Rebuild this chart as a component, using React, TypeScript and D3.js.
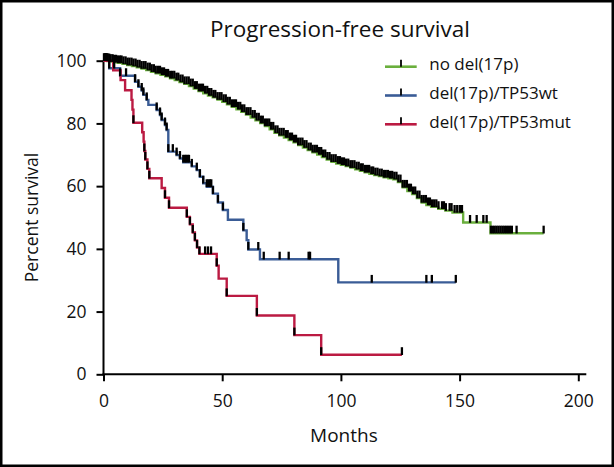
import React, { useRef, useEffect } from 'react';
import * as d3 from 'd3';

// Kaplan-Meier steps: [months, percent surviving]
const noDelEvents: [number, number][] = [
  [0, 100], [1.5, 99.9], [3, 99.7], [4.5, 99.5], [6, 99.3], [8, 99], [10, 98.6], [12, 98.3],
  [14, 97.9], [16, 97.5], [18, 97], [20, 96.5], [22, 96], [24, 95.5], [26, 95], [28, 94.4],
  [30, 93.8], [32, 93.2], [34, 92.6], [36, 91.9], [38, 91.1], [40, 90.3], [42, 89.6], [44, 88.9],
  [46, 88.3], [48, 87.6], [50, 86.9], [52, 86.1], [54, 85.3], [56, 84.5], [58, 83.7], [60, 82.8],
  [62, 81.9], [64, 81], [66, 80.1], [68, 79.2], [70, 78.1], [72, 77], [74, 76.2], [76, 75.5],
  [78, 74.7], [80, 74], [82, 73.1], [84, 72.3], [86, 71.5], [88, 70.8], [90, 70.1], [92, 69.3],
  [94, 68.5], [96, 67.8], [98, 67.2], [100, 66.8], [102, 66.4], [104, 65.9], [106, 65.4],
  [108, 64.9], [110, 64.4], [112, 63.9], [114, 63.5], [116, 63.2], [118, 62.8], [120, 62.5],
  [122, 62.2], [124, 61.3], [126, 59.6], [128, 58.4], [130, 57.5], [132, 56.2], [134, 54.8],
  [136, 54], [138, 53.4], [141, 52.8], [144, 52.2], [147, 51.6], [151.5, 48.4], [163, 45],
];
const noDelEnd = 185.4;
const noDelCensored = [
  0.2, 0.6, 1.1, 1.7, 2.4, 3.0, 3.8, 4.5, 5.3, 6.1, 6.9, 7.6, 8.4, 9.3, 10.1, 10.9, 11.8, 12.6,
  13.5, 14.3, 15.2, 16.0, 16.9, 17.7, 18.6, 19.5, 20.3, 21.2, 22.0, 22.9, 23.8, 24.6, 25.5, 26.3,
  27.2, 28.1, 28.9, 29.8, 30.7, 31.5, 32.4, 33.3, 34.1, 35.0, 35.9, 36.7, 37.6, 38.5, 39.3, 40.2,
  41.1, 41.9, 42.8, 43.7, 44.5, 45.4, 46.3, 47.1, 48.0, 48.9, 49.7, 50.6, 51.5, 52.3, 53.2, 54.1,
  55.0, 55.8, 56.7, 57.6, 58.4, 59.3, 60.2, 61.0, 61.9, 62.8, 63.7, 64.5, 65.4, 66.3, 67.1, 68.0,
  68.9, 69.8, 70.6, 71.5, 72.4, 73.3, 74.1, 75.0, 75.9, 76.8, 77.6, 78.5, 79.4, 80.3, 81.1, 82.0,
  82.9, 83.8, 84.6, 85.5, 86.4, 87.3, 88.1, 89.0, 89.9, 90.8, 91.7, 92.5, 93.4, 94.3, 95.2, 96.0,
  96.9, 97.8, 98.7, 99.6, 100.4, 101.3, 102.2, 103.1, 104.0, 104.8, 105.7, 106.6, 107.5, 108.4,
  109.2, 110.1, 111.0, 111.9, 112.8, 113.6, 114.5, 115.4, 116.3, 117.2, 118.1, 118.9, 119.8,
  120.7, 121.6, 122.5, 123.4, 124.2, 125.1, 126.0, 126.9, 127.8, 128.7, 129.5, 130.4, 131.3,
  132.2, 133.1, 134.0, 134.9, 135.8, 136.7, 137.5, 138.4, 139.3, 140.2, 141.1, 142.6, 143.4,
  144.2, 145.8, 146.6, 147.9, 149.0, 150.1, 151.0, 154.4, 157.2, 160.0, 161.4, 163.2, 164.0,
  164.8, 165.6, 166.4, 167.2, 168.0, 168.8, 169.6, 170.4, 171.2, 172.0, 174.0, 185.4,
];

const wtEvents: [number, number][] = [
  [0, 100], [2.4, 97.6], [7, 95.2], [13.3, 93.3], [14.7, 91.7], [16.1, 90.5], [16.8, 89.1],
  [18.2, 87.5], [18.9, 85.9], [22.4, 84.3], [23.8, 82.7], [24.5, 81.1], [25.9, 79.5], [26.6, 77.9],
  [27.3, 71], [30.8, 69.9], [32.2, 68.8], [33.6, 67.6], [37.2, 66.3], [39.3, 65.1], [40.6, 63],
  [42, 60.9], [43.5, 59.8], [46.1, 57.6], [48.2, 54.8], [50.3, 52.4], [52.4, 49.3], [58.9, 45.9],
  [60.3, 42.8], [61, 39.8], [65.9, 36.7], [98.9, 29.3],
];
const wtEnd = 148.4;
const wtCensored = [
  1.0, 2.4, 4.5, 7.0, 9.5, 13.3, 14.7, 16.1, 16.8, 18.2, 22.4, 23.8, 24.5, 25.9, 26.6, 27.3,
  29.2, 30.8, 32.2, 33.6, 34.2, 34.8, 35.4, 36.0, 37.2, 39.3, 40.6, 42.0, 43.5, 44.2, 44.8, 45.4,
  46.1, 48.2, 50.3, 58.9, 61.0, 65.2, 67.5, 74.2, 78.0, 86.4, 87.0, 113.0, 136.0, 138.3, 148.4,
];

const mutEvents: [number, number][] = [
  [0, 100], [4.1, 96.9], [7.2, 93.8], [9.1, 90.6], [11.8, 87.5], [12.2, 84.4], [12.6, 80.2],
  [16.3, 77.2], [16.9, 74.2], [17.2, 71.2], [17.6, 68.5], [18.5, 65.5], [19.3, 62.5],
  [24.5, 59.4], [25.9, 56.3], [27.6, 53.1], [35.1, 50.2], [36.4, 47.8], [37.6, 45.2],
  [38.5, 42.7], [39.4, 40.4], [40.4, 38.4], [47.7, 34.6], [48.5, 30.5], [51.9, 25],
  [64.6, 18.75], [80.4, 12.5], [91.7, 6.25],
];
const mutEnd = 125.7;
const mutCensored = [
  1.5, 12.6, 17.2, 17.6, 18.5, 19.3, 25.9, 27.6, 35.1, 36.4, 37.6, 38.5, 39.4, 40.4, 42.8, 44.0,
  45.3, 47.7, 51.9, 64.6, 80.4, 91.7, 125.7,
];

const seriesNames = ['no del(17p)', 'del(17p)/TP53wt', 'del(17p)/TP53mut'];
const seriesColors = ['#6aaf3d', '#3a5c96', '#bb1a42'];
const xTicks = [0, 50, 100, 150, 200];
const yTicks = [0, 20, 40, 60, 80, 100];

const W = 614;
const H = 467;
const FONT = '"Open Sans", Lato, sans-serif';

const App: React.FC = () => {
  const svgRef = useRef<SVGSVGElement>(null);

  useEffect(() => {
    const svg = d3.select(svgRef.current);
    svg.selectAll('*').remove();

    const x = d3.scaleLinear().domain([0, 200]).range([103.5, 578.3]);
    const y = d3.scaleLinear().domain([0, 100]).range([374.3, 60.7]);

    // frame
    svg.append('rect')
      .attr('x', 1.25).attr('y', 1.25)
      .attr('width', W - 2.5).attr('height', H - 2.5)
      .attr('fill', '#fff')
      .attr('stroke', '#000')
      .attr('stroke-width', 2.5);

    // title
    svg.append('text')
      .attr('x', 340).attr('y', 37)
      .attr('text-anchor', 'middle')
      .style('font-family', FONT)
      .style('font-size', '22.5px')
      .attr('fill', '#111')
      .text('Progression-free survival');

    // axes
    const yAxis = svg.append('g')
      .attr('transform', `translate(${x(0)},0)`)
      .call(d3.axisLeft(y).tickValues(yTicks).tickSize(7).tickSizeOuter(0).tickPadding(10));
    const xAxis = svg.append('g')
      .attr('transform', `translate(0,${y(0)})`)
      .call(d3.axisBottom(x).tickValues(xTicks).tickSize(7).tickSizeOuter(0).tickPadding(13));
    [xAxis, yAxis].forEach(a => {
      a.select('.domain').remove();
      a.selectAll('.tick line').attr('stroke', '#000').attr('stroke-width', 2);
      a.selectAll('.tick text')
        .attr('fill', '#111')
        .style('font-family', FONT)
        .style('font-size', '17.5px');
    });
    svg.append('line')
      .attr('x1', x(0)).attr('x2', x(0))
      .attr('y1', y(100)).attr('y2', y(0) + 1)
      .attr('stroke', '#000').attr('stroke-width', 2);
    svg.append('line')
      .attr('x1', x(0) - 1).attr('x2', x(200) + 8)
      .attr('y1', y(0)).attr('y2', y(0))
      .attr('stroke', '#000').attr('stroke-width', 2);

    // axis titles
    svg.append('text')
      .attr('transform', `translate(32,${(y(0) + y(100)) / 2}) rotate(-90)`)
      .attr('text-anchor', 'middle')
      .attr('dy', '0.35em')
      .style('font-family', FONT)
      .style('font-size', '17.5px')
      .attr('fill', '#111')
      .text('Percent survival');
    svg.append('text')
      .attr('x', (x(0) + x(200)) / 2 + 3).attr('y', 441.5)
      .attr('text-anchor', 'middle')
      .style('font-family', FONT)
      .style('font-size', '19px')
      .attr('fill', '#111')
      .text('Months');

    // curves
    const series = [
      { events: noDelEvents, end: noDelEnd, censored: noDelCensored },
      { events: wtEvents, end: wtEnd, censored: wtCensored },
      { events: mutEvents, end: mutEnd, censored: mutCensored },
    ];
    const line = d3.line<[number, number]>()
      .x(d => x(d[0]))
      .y(d => y(d[1]))
      .curve(d3.curveStepAfter);
    const bis = d3.bisector((d: [number, number]) => d[0]).right;

    series.forEach((s, i) => {
      const pts: [number, number][] = [...s.events, [s.end, s.events[s.events.length - 1][1]]];
      svg.append('path')
        .attr('d', line(pts) as string)
        .attr('fill', 'none')
        .attr('stroke', seriesColors[i])
        .attr('stroke-width', 2.4);
    });
    series.forEach(s => {
      svg.append('g')
        .selectAll('line')
        .data(s.censored)
        .enter()
        .append('line')
        .attr('x1', t => x(t)).attr('x2', t => x(t))
        .attr('y1', t => y(s.events[Math.max(0, bis(s.events, t) - 1)][1]) + 0.3)
        .attr('y2', t => y(s.events[Math.max(0, bis(s.events, t) - 1)][1]) - 7.5)
        .attr('stroke', '#000')
        .attr('stroke-width', 2.3);
    });

    // legend
    const legend = svg.append('g');
    seriesNames.forEach((name, i) => {
      const ly = 66.7 + i * 28.8;
      legend.append('line')
        .attr('x1', 385).attr('x2', 416.7)
        .attr('y1', ly).attr('y2', ly)
        .attr('stroke', seriesColors[i])
        .attr('stroke-width', 2.6);
      legend.append('line')
        .attr('x1', 401).attr('x2', 401)
        .attr('y1', ly).attr('y2', ly - 7)
        .attr('stroke', '#000')
        .attr('stroke-width', 1.8);
      legend.append('text')
        .attr('x', 429.3).attr('y', ly)
        .attr('dy', '0.2em')
        .style('font-family', FONT)
        .style('font-size', '17px')
        .attr('fill', '#111')
        .text(name);
    });
  }, []);

  return (
    <svg
      ref={svgRef}
      width={W}
      height={H}
      viewBox={`0 0 ${W} ${H}`}
      style={{ position: 'absolute', left: 0, top: 0 }}
    />
  );
};

export default App;
